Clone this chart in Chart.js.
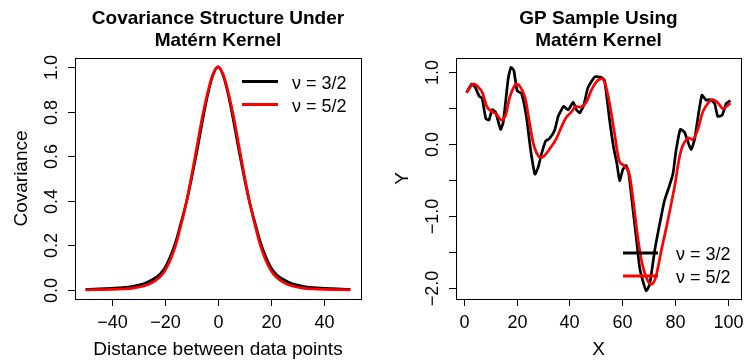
<!DOCTYPE html>
<html>
<head>
<meta charset="utf-8">
<script src="https://cdn.jsdelivr.net/npm/chart.js@4"></script>
<style>
  html, body { margin: 0; padding: 0; background: #fff; }
  #wrap { position: relative; width: 744px; height: 362px; }
  canvas { position: absolute; top: 0; }
</style>
</head>
<body>
<div id="wrap">
  <canvas id="cov" width="372" height="362" style="left:0"></canvas>
  <canvas id="gp" width="372" height="362" style="left:372px"></canvas>
</div>
<script>
// ---- left panel: covariance vs distance ----
const covX = [-50, -45, -40, -36, -32, -28, -25, -22, -20, -18, -16, -14, -12, -10, -8, -6, -4, -2, 0,
              2, 4, 6, 8, 10, 12, 14, 16, 18, 20, 22, 25, 28, 32, 36, 40, 45, 50];
const cov32 = [0.003, 0.005, 0.008, 0.011, 0.017, 0.028, 0.045, 0.07, 0.10, 0.15, 0.215, 0.30, 0.39, 0.50, 0.62, 0.75, 0.87, 0.96, 1.0,
               0.96, 0.87, 0.75, 0.62, 0.50, 0.39, 0.30, 0.215, 0.15, 0.10, 0.07, 0.045, 0.028, 0.017, 0.011, 0.008, 0.005, 0.003];
const cov52 = [0.001, 0.002, 0.003, 0.005, 0.009, 0.018, 0.032, 0.058, 0.088, 0.135, 0.20, 0.29, 0.39, 0.51, 0.64, 0.77, 0.88, 0.965, 1.0,
               0.965, 0.88, 0.77, 0.64, 0.51, 0.39, 0.29, 0.20, 0.135, 0.088, 0.058, 0.032, 0.018, 0.009, 0.005, 0.003, 0.002, 0.001];
const covXTicks = [-40, -20, 0, 20, 40];
const covXLabels = ['\u221240', '\u221220', '0', '20', '40'];
const covYTicks = [0, 0.2, 0.4, 0.6, 0.8, 1.0];
const covYLabels = ['0.0', '0.2', '0.4', '0.6', '0.8', '1.0'];

// ---- right panel: GP samples ----
const gpX32 = [1, 2.9, 4.2, 5.8, 6.9, 8.3, 9.5, 10.7, 12, 13.9, 14.9, 16.8, 17.8, 18.9, 20.2, 21.8, 23.7, 25.3, 26.9, 28.1,
               29.4, 31, 32.3, 34.4, 35.7, 37.8, 39.5, 41.4, 42.6, 43.9, 45.4, 47, 49.6, 52.1, 53.3, 55.2, 56.7, 58, 59, 60.3,
               61.5, 62.5, 63.8, 65.3, 66.6, 67.8, 69.1, 70.4, 72.3, 74.2, 76, 77.9, 79.2, 80.4, 82, 83.6, 84.9, 86.1, 87.4, 88.7,
               90.2, 91.8, 93.3, 95, 96.2, 97.9, 99.4, 101];
const gpY32 = [0.71, 0.83, 0.79, 0.66, 0.63, 0.35, 0.33, 0.475, 0.44, 0.20, 0.30, 0.91, 1.06, 1.02, 0.735, 0.70, 0.37, -0.09, -0.42, -0.33,
               -0.14, 0.04, 0.07, 0.19, 0.38, 0.52, 0.47, 0.58, 0.475, 0.43, 0.535, 0.78, 0.93, 0.92, 0.88, 0.33, -0.045, -0.28, -0.51, -0.35,
               -0.30, -0.42, -0.83, -1.30, -1.72, -1.90, -2.04, -1.95, -1.48, -1.11, -0.79, -0.58, -0.42, -0.09, 0.20, 0.16, 0.025, -0.08, 0.06, 0.37,
               0.675, 0.605, 0.615, 0.56, 0.38, 0.40, 0.56, 0.60];
const gpX52 = [1, 3.5, 5.4, 7, 8.8, 10.5, 12.1, 14.2, 15.8, 17.4, 19.7, 21.2, 23.1, 24.7, 26.5, 28.5, 30, 32.5, 35, 36.9,
               38.8, 40.7, 42.4, 44.5, 46.4, 48.3, 50.2, 52.1, 53.3, 55.2, 57.1, 59, 60.9, 62.5, 64.3, 65.9, 67.6, 69.4, 71, 72.6,
               74.8, 77.3, 79.8, 82.3, 84.9, 86.8, 88.7, 90.5, 92.4, 94.3, 96.2, 98.1, 100, 101];
const gpY52 = [0.71, 0.83, 0.79, 0.71, 0.51, 0.45, 0.42, 0.33, 0.40, 0.65, 0.83, 0.80, 0.65, 0.33, -0.02, -0.18, -0.18, -0.07, 0.07, 0.23,
               0.37, 0.44, 0.52, 0.51, 0.58, 0.745, 0.86, 0.905, 0.86, 0.56, 0.14, -0.25, -0.31, -0.39, -0.83, -1.30, -1.67, -1.88, -1.95, -1.86,
               -1.48, -1.06, -0.60, -0.09, 0.08, 0.06, 0.21, 0.44, 0.56, 0.615, 0.57, 0.49, 0.535, 0.565];
const gpXTicks = [0, 20, 40, 60, 80, 100];
const gpXLabels = ['0', '20', '40', '60', '80', '100'];
const gpYTicks = [-2, -1.5, -1, -0.5, 0, 0.5, 1];
const gpYLabels = ['\u22122.0', '', '\u22121.0', '', '0.0', '', '1.0'];

const seriesNames = ['\u03bd = 3/2', '\u03bd = 5/2'];
const FONT = '"Liberation Sans", Arial, Helvetica, sans-serif';

// R-style box, ticks, labels, titles and legend drawn with the chart's own scales
function rAxes(cfg) {
    return {
        id: 'rAxes',
        afterDraw(chart) {
            const ctx = chart.ctx;
            const a = chart.chartArea;
            const xs = chart.scales.x;
            const ys = chart.scales.y;
            ctx.save();
            ctx.strokeStyle = '#000';
            ctx.fillStyle = '#000';
            ctx.lineWidth = 1;
            ctx.strokeRect(Math.round(a.left) + 0.5, Math.round(a.top) + 0.5,
                Math.round(a.right - a.left), Math.round(a.bottom - a.top));

            ctx.font = '18px ' + FONT;
            ctx.textAlign = 'center';
            ctx.textBaseline = 'alphabetic';
            cfg.xTicks.forEach((v, i) => {
                const px = Math.round(xs.getPixelForValue(v)) + 0.5;
                ctx.beginPath();
                ctx.moveTo(px, a.bottom);
                ctx.lineTo(px, a.bottom + 7);
                ctx.stroke();
                ctx.fillText(cfg.xLabels[i], px, a.bottom + 29);
            });
            cfg.yTicks.forEach((v, i) => {
                const py = Math.round(ys.getPixelForValue(v)) + 0.5;
                ctx.beginPath();
                ctx.moveTo(a.left, py);
                ctx.lineTo(a.left - 7, py);
                ctx.stroke();
                if (cfg.yLabels[i]) {
                    ctx.save();
                    ctx.translate(a.left - 18, py);
                    ctx.rotate(-Math.PI / 2);
                    ctx.fillText(cfg.yLabels[i], 0, 0);
                    ctx.restore();
                }
            });

            // axis titles
            const cx = (a.left + a.right) / 2;
            ctx.font = '19px ' + FONT;
            ctx.fillText(cfg.xTitle, cx, 355);
            ctx.save();
            ctx.translate(a.left - 48, (a.top + a.bottom) / 2);
            ctx.rotate(-Math.PI / 2);
            ctx.fillText(cfg.yTitle, 0, 0);
            ctx.restore();

            // main title
            ctx.font = 'bold 19px ' + FONT;
            ctx.fillText(cfg.title[0], cx, 24);
            ctx.fillText(cfg.title[1], cx, 46);

            // legend
            const lg = cfg.legend;
            ctx.font = '18px ' + FONT;
            ctx.textAlign = 'left';
            ['#000', '#ff0000'].forEach((c, i) => {
                const y = lg.y + i * lg.dy;
                ctx.strokeStyle = c;
                ctx.lineWidth = 3;
                ctx.beginPath();
                ctx.moveTo(lg.x1, y);
                ctx.lineTo(lg.x2, y);
                ctx.stroke();
                ctx.fillText(seriesNames[i], lg.tx, y + 7);
            });
            ctx.restore();
        }
    };
}

function makeChart(id, xArr1, yArr1, xArr2, yArr2, xRange, yRange, pad, smooth, cfg) {
    const toPts = (xa, ya) => xa.map((x, i) => ({ x: x, y: ya[i] }));
    const lineStyle = (i) => smooth.monotone
        ? { cubicInterpolationMode: 'monotone' }
        : { tension: smooth.tension[i] };
    return new Chart(document.getElementById(id), {
        type: 'line',
        data: {
            datasets: [Object.assign({
                label: seriesNames[0],
                data: toPts(xArr1, yArr1),
                borderColor: '#000000',
                borderWidth: 2.7,
                pointRadius: 0,
                fill: false,
                order: 1
            }, lineStyle(0)), Object.assign({
                label: seriesNames[1],
                data: toPts(xArr2, yArr2),
                borderColor: '#ff0000',
                borderWidth: 2.7,
                pointRadius: 0,
                fill: false,
                order: 0
            }, lineStyle(1))]
        },
        options: {
            responsive: false,
            animation: false,
            layout: { padding: pad },
            plugins: { legend: { display: false }, tooltip: { enabled: false } },
            scales: {
                x: { type: 'linear', min: xRange[0], max: xRange[1], display: false },
                y: { type: 'linear', min: yRange[0], max: yRange[1], display: false }
            }
        },
        plugins: [rAxes(cfg)]
    });
}

makeChart('cov', covX, cov32, covX, cov52, [-54, 54], [-0.04, 1.04],
    { left: 75, top: 58, right: 11, bottom: 63 }, { monotone: true }, {
        xTicks: covXTicks, xLabels: covXLabels, yTicks: covYTicks, yLabels: covYLabels,
        xTitle: 'Distance between data points', yTitle: 'Covariance',
        title: ['Covariance Structure Under', 'Matérn Kernel'],
        legend: { x1: 242, x2: 278, y: 81.5, dy: 23, tx: 292 }
    });

makeChart('gp', gpX32, gpY32, gpX52, gpY52, [-3, 105], [-2.153, 1.191],
    { left: 84, top: 58, right: 3, bottom: 63 }, { tension: [0.15, 0.35] }, {
        xTicks: gpXTicks, xLabels: gpXLabels, yTicks: gpYTicks, yLabels: gpYLabels,
        xTitle: 'X', yTitle: 'Y',
        title: ['GP Sample Using', 'Matérn Kernel'],
        legend: { x1: 251, x2: 286, y: 253, dy: 23, tx: 304 }
    });
</script>
</body>
</html>
